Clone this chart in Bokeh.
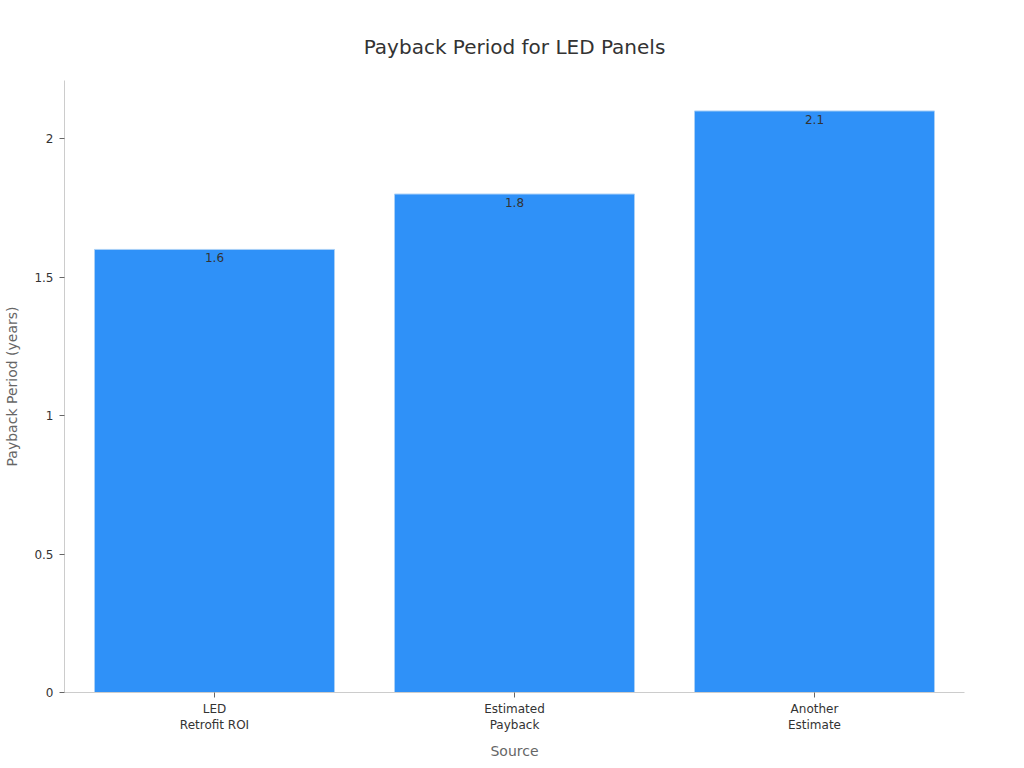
from bokeh.plotting import figure
from bokeh.models import ColumnDataSource, FactorRange, Range1d, FixedTicker, CustomJSTickFormatter
from bokeh.core.properties import value
from bokeh.embed import file_html
from bokeh.resources import INLINE

title_text = "Payback Period for LED Panels"
categories = ["LED\nRetrofit ROI", "Estimated\nPayback", "Another\nEstimate"]
payback_years = [1.6, 1.8, 2.1]
bar_labels = ["1.6", "1.8", "2.1"]
y_ticks = [0, 0.5, 1, 1.5, 2]

FONT = "DejaVu Sans"

src = ColumnDataSource(dict(cat=categories, val=payback_years, lab=bar_labels))

p = figure(
    x_range=FactorRange(*categories, range_padding=0),
    y_range=Range1d(0, 2.21),
    width=1008, height=762,
    output_backend="svg", toolbar_location=None,
    title=title_text,
    min_border_left=64, min_border_right=44, min_border_top=80, min_border_bottom=68,
)
p.outline_line_color = None
p.xgrid.grid_line_color = None
p.ygrid.grid_line_color = None

p.title.text_font = FONT
p.title.text_font_size = "20px"
p.title.text_font_style = "normal"
p.title.text_color = "#333333"
p.title.align = "center"
p.title.vertical_align = "top"
p.title.standoff = 39

p.vbar(x="cat", top="val", width=0.8, source=src,
       fill_color="#2F91F8", line_color="#A9D0F7", line_width=1)

p.text(x="cat", y="val", text="lab", source=src,
       text_align="center", text_baseline="top", y_offset=4,
       text_font=value(FONT), text_font_size="12px", text_color="#333333")

# axes
for ax in (p.xaxis[0], p.yaxis[0]):
    ax.axis_line_color = "#cccccc"
    ax.major_tick_line_color = "#666666"
    ax.minor_tick_line_color = None
    ax.major_label_text_font = FONT
    ax.major_label_text_font_size = "12px"
    ax.major_label_text_color = "#333333"
    ax.axis_label_text_font = FONT
    ax.axis_label_text_font_size = "14px"
    ax.axis_label_text_font_style = "normal"
    ax.axis_label_text_color = "#666666"

p.xaxis.axis_label = "Source"
p.xaxis.major_tick_in = 0
p.xaxis.major_tick_out = 5
p.xaxis.major_label_standoff = 4
p.xaxis.axis_label_standoff = 8

p.yaxis.axis_label = "Payback Period (years)"
p.yaxis.ticker = FixedTicker(ticks=y_ticks)
p.yaxis.formatter = CustomJSTickFormatter(code="return tick.toString();")
p.yaxis.major_tick_in = 0
p.yaxis.major_tick_out = 5
p.yaxis.major_label_standoff = 6
p.yaxis.axis_label_standoff = 11

open("out.html", "w").write(file_html(p, INLINE))
